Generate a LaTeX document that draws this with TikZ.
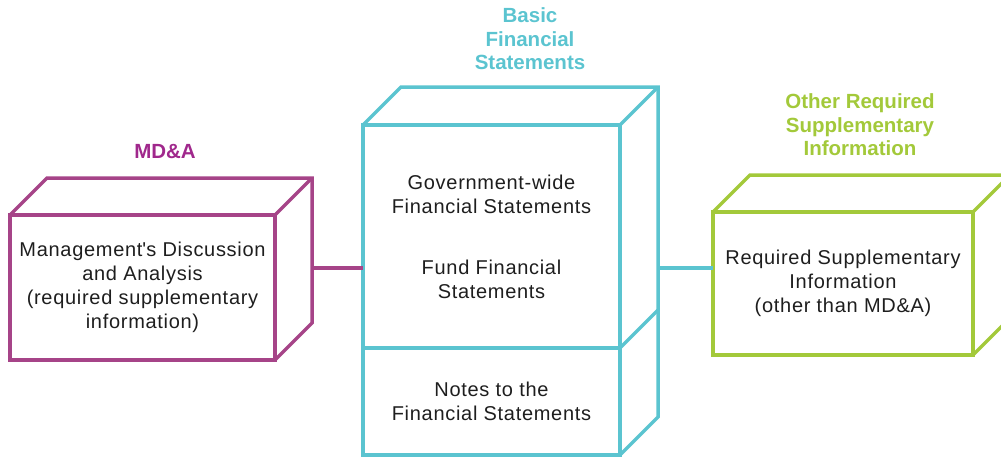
\documentclass[tikz,border=0pt]{standalone}
\usepackage{fontspec}
\setmainfont{Liberation Sans}
\newfontfamily\bodyfont[LetterSpace=3.5]{Liberation Sans}
\usetikzlibrary{positioning, calc}

\definecolor{mdapurple}{RGB}{166,68,136}
\definecolor{mdatitle}{RGB}{160,40,140}
\definecolor{bfsteal}{RGB}{91,196,208}
\definecolor{rsigreen}{RGB}{163,201,58}
\definecolor{bodytext}{RGB}{30,30,30}

\begin{document}
\begin{tikzpicture}[x=1pt, y=-1pt,
        face/.style={rectangle, draw, line width=3.5pt, outer sep=0pt, inner sep=0pt,
            align=center, text=bodytext, font=\bodyfont\fontsize{20}{24}\selectfont},
        edge3d/.style={line width=3.5pt},
        heading/.style={align=center, font=\fontsize{20.5}{23.5}\selectfont\bfseries}
    ]
    \useasboundingbox (0,0) rectangle (1001,459);

    % front faces
    \node[face, draw=mdapurple, minimum width=265pt, minimum height=145pt] (mda) at (142.5,287.5)
        {Management\textquotesingle s Discussion\\and Analysis\\(required supplementary\\information)};
    \node[face, draw=bfsteal, minimum width=257pt, minimum height=223pt] (bfs) at (491.5,236.5)
        {Government-wide\\Financial Statements\\[37pt]Fund Financial\\Statements};
    \node[face, draw=bfsteal, minimum width=257pt, minimum height=107pt, below=0pt of bfs] (notes)
        {Notes to the\\Financial Statements};
    \node[face, draw=rsigreen, minimum width=260pt, minimum height=143pt] (rsi) at (843,283.5)
        {Required Supplementary\\Information\\(other than MD\&A)};

    % tops and sides
    \draw[edge3d, mdapurple] (mda.north west) -- ++(37,-37) -- ++(265,0) coordinate (mdaback)
        -- ++(0,145) -- (mda.south east);
    \draw[edge3d, mdapurple] (mda.north east) -- (mdaback);

    \draw[edge3d, bfsteal] (bfs.north west) -- ++(38,-38) -- ++(257,0) coordinate (bfsback)
        -- ($(notes.south east)+(38,-38)$) -- (notes.south east);
    \draw[edge3d, bfsteal] (bfs.north east) -- (bfsback);
    \draw[edge3d, bfsteal] (bfs.south east) -- ++(38,-38);

    \draw[edge3d, rsigreen] (rsi.north west) -- ++(37,-37) -- ++(260,0) coordinate (rsiback)
        -- ++(0,143) -- (rsi.south east);
    \draw[edge3d, rsigreen] (rsi.north east) -- (rsiback);

    % links between the boxes
    \coordinate (mdaout) at ($(mdaback)+(0,90)$);
    \coordinate (bfsout) at ($(bfsback)+(0,181)$);
    \draw[edge3d, mdapurple] (mdaout) -- (mdaout -| bfs.west);
    \draw[edge3d, bfsteal] (bfsout) -- (bfsout -| rsi.west);

    % headings
    \node[heading, text=mdatitle] (mdahead) at (165,151.5) {MD\&A};
    \node[heading, text=bfsteal] (bfshead) at (530,39) {Basic\\Financial\\Statements};
    \node[heading, text=rsigreen] (rsihead) at (860,125) {Other Required\\Supplementary\\Information};
\end{tikzpicture}
\end{document}
